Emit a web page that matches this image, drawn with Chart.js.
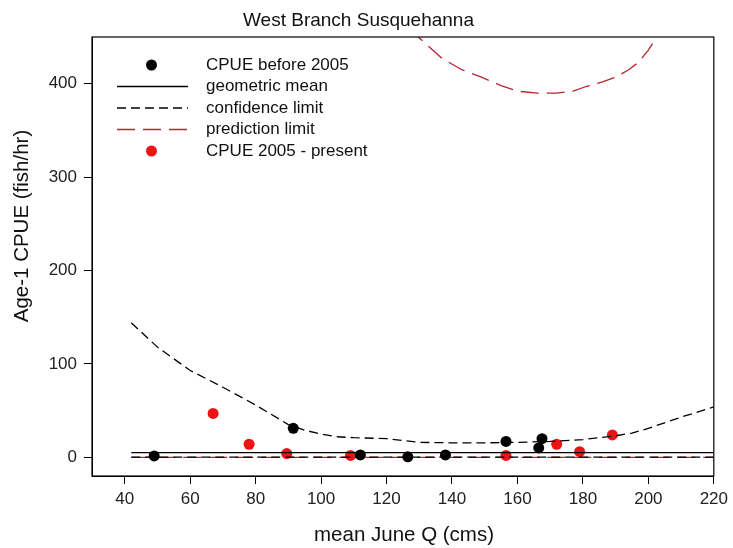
<!DOCTYPE html>
<html>
<head>
<meta charset="utf-8">
<script src="https://cdn.jsdelivr.net/npm/chart.js@4.4.1/dist/chart.umd.min.js"></script>
<style>
  html, body { margin: 0; padding: 0; background: #fff; }
  #c { display: block; }
</style>
</head>
<body>
<canvas id="c" width="733" height="548"></canvas>
<script>
// Age-1 CPUE against mean June discharge, West Branch Susquehanna
const preQ = [49, 91.5, 112, 126.5, 138, 156.5, 166.5, 167.5];
const preCpue = [1.5, 31, 2.5, 0.5, 2.5, 17, 10, 20];

const postQ = [67, 78, 89.5, 109, 156.5, 172, 179, 189];
const postCpue = [47, 14, 4, 2, 2, 14, 6, 24];

// geometric mean and lower limits (flat across the discharge range)
const meanQ = [42, 220];
const meanLine = [5, 5];
const ciLower = [0.3, 0.3];
const piLower = [0, 0];

// upper 95% confidence limit
const ciQ = [42, 50, 60, 70, 80, 90, 95, 100, 105, 110, 120, 125, 130, 140, 150, 160, 170, 180, 185, 190, 195, 200, 210, 220];
const ciUpper = [144, 118, 93, 75, 56, 35, 29, 25, 22, 21, 20, 18, 16, 15.5, 15.5, 16, 17, 19, 21, 23, 26, 31, 43, 54];

// upper 95% prediction limit
const piQ = [118, 124, 130, 137, 143, 149, 155, 160, 166, 172, 177, 181, 186, 190, 194, 197, 200, 203, 207, 212];
const piUpper = [505, 472, 449, 427, 415, 407, 398, 392, 390, 390, 392, 397, 402, 407, 415, 423, 436, 452, 475, 505];

const xTicks = [40, 60, 80, 100, 120, 140, 160, 180, 200, 220];
const yTicks = [0, 100, 200, 300, 400];

const FONT = "'Liberation Sans', Arial, sans-serif";
const BLACK = '#000000';
const RED_PT = '#ee1414';
const RED_LN = '#b3262f';

const toXY = (xs, ys) => xs.map((x, i) => ({ x: x, y: ys[i] }));

// box around the plotting area
const framePlugin = {
  id: 'frame',
  afterDraw(chart) {
    const { ctx, chartArea: a } = chart;
    ctx.save();
    ctx.strokeStyle = BLACK;
    ctx.lineWidth = 1.2;
    ctx.strokeRect(a.left, a.top, a.right - a.left, a.bottom - a.top);
    ctx.restore();
  }
};

// axis titles
const axisTitlePlugin = {
  id: 'axisTitles',
  afterDraw(chart) {
    const { ctx } = chart;
    ctx.save();
    ctx.fillStyle = '#111';
    ctx.font = '20.5px ' + FONT;
    ctx.textAlign = 'center';
    ctx.textBaseline = 'middle';
    ctx.fillText('mean June Q (cms)', 404, 535);
    ctx.translate(22, 226);
    ctx.rotate(-Math.PI / 2);
    ctx.fillText('Age-1 CPUE (fish/hr)', 0, 0);
    ctx.restore();
  }
};

// legend inside the plot, top-left
const legendPlugin = {
  id: 'insetLegend',
  afterDraw(chart) {
    const { ctx } = chart;
    const ds = chart.data.datasets;
    const entries = [0, 1, 2, 4, 6];
    const x0 = 117, x1 = 188, tx = 206, y0 = 65, dy = 21.5;
    ctx.save();
    ctx.font = '17px ' + FONT;
    ctx.textBaseline = 'middle';
    ctx.textAlign = 'left';
    entries.forEach((di, r) => {
      const d = ds[di];
      const y = y0 + r * dy;
      if (d.showLine) {
        ctx.strokeStyle = d.borderColor;
        ctx.lineWidth = d.borderWidth;
        ctx.setLineDash(d.borderDash || []);
        ctx.beginPath();
        ctx.moveTo(x0, y);
        ctx.lineTo(x1, y);
        ctx.stroke();
        ctx.setLineDash([]);
      } else {
        ctx.fillStyle = d.backgroundColor;
        ctx.beginPath();
        ctx.arc((x0 + x1) / 2 - 1, y, d.pointRadius, 0, Math.PI * 2);
        ctx.fill();
      }
      ctx.fillStyle = '#111';
      ctx.fillText(d.label, tx, y);
    });
    ctx.restore();
  }
};

const gridOpts = {
  drawOnChartArea: false,
  drawTicks: true,
  tickLength: 8,
  color: BLACK,
  tickWidth: 1
};

new Chart(document.getElementById('c'), {
  type: 'scatter',
  data: {
    datasets: [
      { label: 'CPUE before 2005', data: toXY(preQ, preCpue), pointRadius: 5.5, pointHoverRadius: 5.5,
        backgroundColor: BLACK, borderColor: BLACK, borderWidth: 0 },
      { label: 'geometric mean', data: toXY(meanQ, meanLine), showLine: true, pointRadius: 0,
        borderColor: BLACK, borderWidth: 1.4 },
      { label: 'confidence limit', data: toXY(ciQ, ciUpper), showLine: true, pointRadius: 0,
        borderColor: BLACK, borderWidth: 1.3, borderDash: [9, 5] },
      { label: 'confidence limit', data: toXY(meanQ, ciLower), showLine: true, pointRadius: 0,
        borderColor: BLACK, borderWidth: 1.3, borderDash: [9, 5] },
      { label: 'prediction limit', data: toXY(piQ, piUpper), showLine: true, pointRadius: 0,
        borderColor: RED_LN, borderWidth: 1.3, borderDash: [18, 8] },
      { label: 'prediction limit', data: toXY(meanQ, piLower), showLine: true, pointRadius: 0,
        borderColor: RED_LN, borderWidth: 1.3, borderDash: [18, 8] },
      { label: 'CPUE 2005 - present', data: toXY(postQ, postCpue), pointRadius: 5.5, pointHoverRadius: 5.5,
        backgroundColor: RED_PT, borderColor: RED_PT, borderWidth: 0 }
    ]
  },
  options: {
    responsive: false,
    animation: false,
    devicePixelRatio: 1,
    layout: { padding: { top: 0, right: 16, bottom: 0, left: 0 } },
    plugins: {
      legend: { display: false },
      tooltip: { enabled: false },
      title: {
        display: true,
        text: 'West Branch Susquehanna',
        color: '#111',
        font: { family: FONT, size: 19, weight: 'normal' },
        padding: { top: 9.5, bottom: 4.7 }
      }
    },
    scales: {
      x: {
        type: 'linear',
        min: 30,
        max: 220,
        afterBuildTicks: s => { s.ticks = xTicks.map(v => ({ value: v })); },
        afterFit: s => { s.height = 72; },
        grid: gridOpts,
        border: { display: true, color: BLACK, width: 1 },
        ticks: { color: '#222', font: { family: FONT, size: 17 }, padding: 5, maxRotation: 0, autoSkip: false }
      },
      y: {
        type: 'linear',
        min: -20,
        max: 450,
        afterBuildTicks: s => { s.ticks = yTicks.map(v => ({ value: v })); },
        afterFit: s => { s.width = 92; },
        grid: gridOpts,
        border: { display: true, color: BLACK, width: 1 },
        ticks: { color: '#222', font: { family: FONT, size: 17 }, padding: 7 }
      }
    }
  },
  plugins: [framePlugin, axisTitlePlugin, legendPlugin]
});
</script>
</body>
</html>
